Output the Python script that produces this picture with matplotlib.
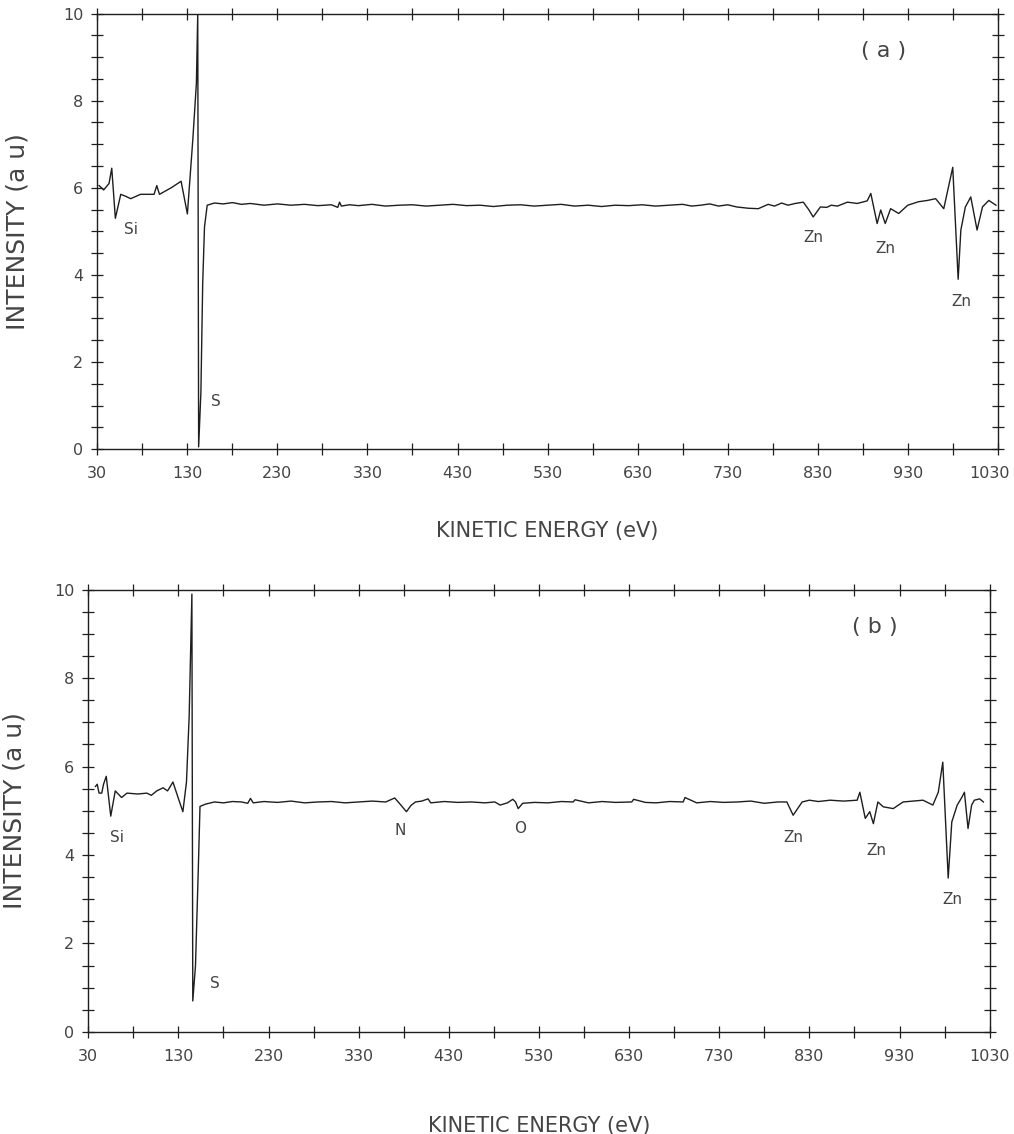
import matplotlib
matplotlib.use("Agg")
import matplotlib.pyplot as plt
import matplotlib.transforms as mtransforms
from matplotlib.ticker import MultipleLocator, FixedLocator

# ---------------- data ----------------
energy_a = [32, 37, 43, 46, 50, 56, 62, 67, 78, 93, 96, 99, 112, 123, 130, 136, 140,
            141.5, 142.5, 145, 147, 149, 152, 160, 170, 180, 190, 200, 215, 230, 245,
            260, 275, 290, 297, 299, 301, 310, 320, 335, 350, 365, 380, 395, 410, 425,
            440, 455, 470, 485, 500, 515, 530, 545, 560, 575, 590, 605, 620, 635, 650,
            665, 680, 690, 700, 710, 720, 730, 740, 753, 764, 775, 782, 790, 797, 805,
            814, 820, 825, 833, 840, 845, 852, 863, 874, 885, 889, 896, 900, 905, 911,
            920, 930, 942, 952, 961, 970, 980, 986, 989, 994, 1000, 1007, 1013, 1020,
            1028]
intensity_a = [6.05, 5.95, 6.1, 6.45, 5.3, 5.85, 5.8, 5.75, 5.85, 5.85, 6.05, 5.85, 6.0,
               6.15, 5.4, 7.1, 8.4, 10.0, 0.05, 1.3, 3.8, 5.1, 5.6, 5.65, 5.63, 5.66,
               5.62, 5.64, 5.6, 5.63, 5.6, 5.62, 5.59, 5.61, 5.55, 5.67, 5.58, 5.61,
               5.59, 5.62, 5.58, 5.6, 5.61, 5.58, 5.6, 5.62, 5.59, 5.6, 5.57, 5.6, 5.61,
               5.58, 5.6, 5.62, 5.58, 5.6, 5.57, 5.6, 5.59, 5.61, 5.58, 5.6, 5.62, 5.58,
               5.6, 5.63, 5.58, 5.61, 5.56, 5.53, 5.52, 5.62, 5.58, 5.65, 5.6, 5.64,
               5.67, 5.5, 5.33, 5.56, 5.55, 5.6, 5.58, 5.67, 5.64, 5.7, 5.87, 5.18, 5.49,
               5.18, 5.52, 5.41, 5.6, 5.68, 5.71, 5.75, 5.52, 6.47, 3.9, 5.03, 5.56,
               5.79, 5.03, 5.56, 5.71, 5.6]

energy_b = [38, 40, 42, 45, 47, 50, 55, 60, 67, 73, 85, 95, 100, 106, 113, 118, 124,
            130, 135, 139, 142, 145, 146, 149, 152, 154, 160, 170, 180, 190, 200, 207,
            210, 213, 225, 240, 255, 270, 285, 300, 315, 330, 345, 360, 370, 376, 383,
            388, 393, 400, 407, 410, 425, 440, 455, 470, 481, 487, 495, 501, 504, 507,
            512, 525, 540, 555, 568, 570, 585, 600, 615, 633, 635, 648, 660, 675, 690,
            692, 705, 720, 735, 750, 765, 780, 795, 805, 812, 822, 830, 840, 853, 868,
            883, 886, 892, 897, 901, 906, 912, 923, 934, 945, 956, 967, 973, 978, 984,
            988, 994, 999, 1002, 1006, 1010, 1013, 1019, 1023]
intensity_b = [5.55, 5.6, 5.4, 5.4, 5.6, 5.78, 4.88, 5.45, 5.3, 5.4, 5.38, 5.4, 5.35,
               5.45, 5.52, 5.45, 5.65, 5.28, 4.98, 5.65, 7.15, 9.9, 0.7, 1.5, 3.6, 5.1,
               5.15, 5.2, 5.18, 5.21, 5.2, 5.17, 5.28, 5.18, 5.21, 5.19, 5.22, 5.18,
               5.2, 5.21, 5.18, 5.2, 5.22, 5.2, 5.29, 5.15, 4.98, 5.12, 5.2, 5.22, 5.27,
               5.18, 5.21, 5.19, 5.2, 5.18, 5.2, 5.13, 5.18, 5.26, 5.2, 5.05, 5.17,
               5.19, 5.18, 5.21, 5.2, 5.25, 5.18, 5.21, 5.19, 5.2, 5.26, 5.19, 5.18,
               5.21, 5.2, 5.3, 5.18, 5.21, 5.19, 5.2, 5.22, 5.17, 5.2, 5.2, 4.9, 5.2,
               5.24, 5.21, 5.24, 5.22, 5.24, 5.42, 4.83, 4.98, 4.71, 5.2, 5.09, 5.05,
               5.2, 5.22, 5.24, 5.13, 5.42, 6.1, 3.48, 4.75, 5.13, 5.3, 5.42, 4.6, 5.13,
               5.24, 5.27, 5.2]

x_ticks = [30, 130, 230, 330, 430, 530, 630, 730, 830, 930, 1030]
x_minor = [80, 180, 280, 380, 480, 580, 680, 780, 880, 980]
y_ticks = [0, 2, 4, 6, 8, 10]

labels_a = [("Si", 67, 5.05), ("S", 162, 1.1), ("Zn", 825, 4.85),
            ("Zn", 905, 4.6), ("Zn", 990, 3.4)]
labels_b = [("Si", 62, 4.4), ("S", 171, 1.1), ("N", 376, 4.55), ("O", 509, 4.6),
            ("Zn", 812, 4.4), ("Zn", 904, 4.1), ("Zn", 989, 3.0)]

# ---------------- drawing ----------------
fig = plt.figure(figsize=(10.14, 11.34), dpi=100)
ink = "#1e1e1e"
txt = "#444444"


def style(ax, energy, intensity, labels, tag, xlab_y, ylab_x, shift_last):
    ax.plot(energy, intensity, color=ink, lw=1.0)
    ax.set_xlim(30, 1030)
    ax.set_ylim(0, 10)
    ax.xaxis.set_major_locator(FixedLocator(x_ticks))
    ax.xaxis.set_minor_locator(FixedLocator(x_minor))
    ax.yaxis.set_major_locator(FixedLocator(y_ticks))
    ax.yaxis.set_minor_locator(MultipleLocator(0.5))
    ax.set_xticklabels([str(v) for v in x_ticks])
    ax.set_yticklabels([str(v) for v in y_ticks])
    ax.tick_params(which="both", direction="inout", length=8, width=0.9,
                   top=True, right=True, color=ink,
                   labelsize=11.5, labelcolor=txt)
    ax.tick_params(axis="x", pad=8)
    ax.tick_params(axis="y", pad=6)
    for s in ax.spines.values():
        s.set_color(ink)
        s.set_linewidth(1.0)
    if shift_last:
        last = ax.get_xticklabels()[-1]
        last.set_transform(last.get_transform() +
                           mtransforms.ScaledTranslation(-6 / 72, 0, fig.dpi_scale_trans))
    ax.set_xlabel("KINETIC ENERGY (eV)", fontsize=15, color=txt)
    ax.xaxis.set_label_coords(0.5, xlab_y)
    ax.set_ylabel("INTENSITY (a u)", fontsize=18, color=txt)
    ax.yaxis.set_label_coords(ylab_x, 0.5)
    for name, xe, yv in labels:
        ax.text(xe, yv, name, fontsize=11, color=txt, ha="center", va="center")
    ax.text(903, 9.15, tag, fontsize=16, color=txt, ha="center", va="center")


ax_a = fig.add_axes([0.096, 0.604, 0.888, 0.384])
style(ax_a, energy_a, intensity_a, labels_a, "( a )", -0.165, -0.075, True)

ax_b = fig.add_axes([0.087, 0.090, 0.889, 0.390])
style(ax_b, energy_b, intensity_b, labels_b, "( b )", -0.19, -0.068, False)

fig.savefig("out.png", dpi=100, facecolor="white")
